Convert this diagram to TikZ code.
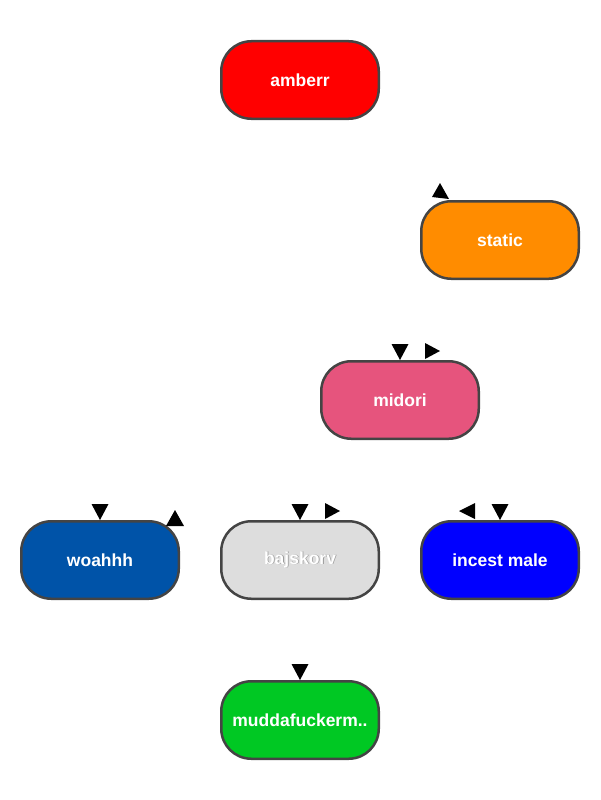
\documentclass[tikz,border=0pt]{standalone}
\usepackage{fontspec}
\setmainfont{Liberation Sans}
\usetikzlibrary{calc}
\definecolor{cRed}{HTML}{FF0000}
\definecolor{cOrange}{HTML}{FF8C00}
\definecolor{cPink}{HTML}{E6547D}
\definecolor{cNavy}{HTML}{0053A8}
\definecolor{cGray}{HTML}{DDDDDD}
\definecolor{cBlue}{HTML}{0000FF}
\definecolor{cGreen}{HTML}{00C823}
\definecolor{cBorder}{HTML}{444444}
\tikzset{
  pill/.style={rectangle, rounded corners=30pt, minimum width=157.5pt, minimum height=77.5pt,
    draw=cBorder, line width=2.5pt, inner sep=0pt,
    font=\bfseries\fontsize{17.5}{20}\selectfont, text=white},
  tipfill/.style={fill=black, draw=none}
}
\begin{document}
\begin{tikzpicture}[x=1pt, y=-1pt]
\useasboundingbox (0,0) rectangle (600,800);
\node[pill, fill=cRed] (amberr) at (300,80) {amberr};
\node[pill, fill=cOrange] (static) at (500,240) {static};
\node[pill, fill=cPink] (midori) at (400,400) {midori};
\node[pill, fill=cNavy] (woahhh) at (100,560) {woahhh};
\node[pill, fill=cGray, text=white] (bajskorv) at (300,560) {\textcolor{black!40}{\rlap{\hspace{0.8pt}\raisebox{-0.8pt}{bajskorv}}}bajskorv};
\node[pill, fill=cBlue] (incest) at (500,560) {incest male};
\node[pill, fill=cGreen] (mudda) at (300,720) {muddafuckerm..};
% arrow tips
\fill[tipfill] ([shift={(12,-3)}]static.north west) -- ([shift={(29,-1)}]static.north west) -- ([shift={(20,-17)}]static.north west) -- cycle;
\fill[tipfill] (midori.north) -- ++(-8.5,-16) -- ++(17,0) -- cycle;
\fill[tipfill] ([shift={(40,-9)}]midori.north) -- ++(-15,-8) -- ++(0,16) -- cycle;
\fill[tipfill] (woahhh.north) -- ++(-8.5,-16) -- ++(17,0) -- cycle;
\fill[tipfill] ([shift={(-5,-10)}]woahhh.north east) -- ++(-9,16) -- ++(18,0) -- cycle;
\fill[tipfill] (bajskorv.north) -- ++(-8.5,-16) -- ++(17,0) -- cycle;
\fill[tipfill] ([shift={(40,-9)}]bajskorv.north) -- ++(-15,-8) -- ++(0,16) -- cycle;
\fill[tipfill] (incest.north) -- ++(-8.5,-16) -- ++(17,0) -- cycle;
\fill[tipfill] ([shift={(-41,-9)}]incest.north) -- ++(16,-8) -- ++(0,16) -- cycle;
\fill[tipfill] (mudda.north) -- ++(-8.5,-16) -- ++(17,0) -- cycle;
\end{tikzpicture}
\end{document}
